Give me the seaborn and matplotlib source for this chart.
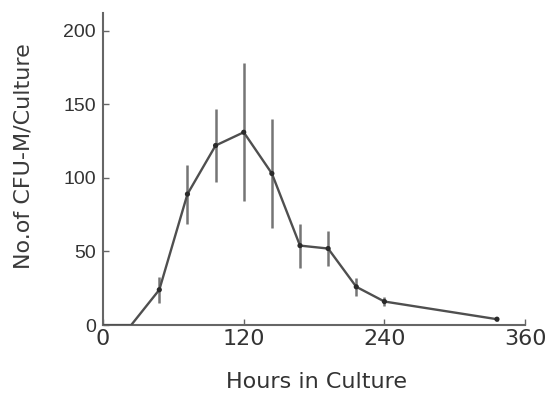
import numpy as np
import pandas as pd
import seaborn as sns
import matplotlib.pyplot as plt

# values
hours = [0, 24, 48, 72, 96, 120, 144, 168, 192, 216, 240, 336]
cfu = [0, 0, 24, 89, 122, 131, 103, 54, 52, 26, 16, 4]
err = [0, 0, 9, 20, 25, 47, 37, 15, 12, 6, 3, 1]

xticks = [0, 120, 240, 360]
yticks = [0, 50, 100, 150, 200]

df = pd.DataFrame({'Hours': hours, 'CFU': cfu, 'err': err})
meas = df[df['Hours'] >= 48]

sns.set_style('ticks')
plt.rcParams['font.family'] = ['Liberation Sans', 'DejaVu Sans']

fig = plt.figure(figsize=(5.51, 3.95), dpi=100)
ax = fig.add_axes([0.187, 0.177, 0.766, 0.79])

line_col = '#4f4f4f'
# error bars (no caps)
ax.vlines(meas['Hours'], meas['CFU'] - meas['err'], meas['CFU'] + meas['err'],
          color='#757575', linewidth=1.8, zorder=2)
# the line through all values
sns.lineplot(data=df, x='Hours', y='CFU', ax=ax, color=line_col, linewidth=1.7,
             zorder=3)
# markers at measured points
sns.scatterplot(data=meas, x='Hours', y='CFU', ax=ax, color='#2a2a2a', s=14,
                edgecolor='none', zorder=4)

ax.set_xlim(0, 360)
ax.set_ylim(0, 212)
ax.set_xticks(xticks)
ax.set_yticks(yticks)
ax.tick_params(direction='in', length=4, width=1, colors='#666666',
               labelcolor='#333333', labelsize=14, pad=5)
for lab in ax.get_xticklabels():
    lab.set_fontfamily('DejaVu Sans')
    lab.set_fontsize(16)
ax.tick_params(axis='x', pad=3)
sns.despine(ax=ax)
for s in ['left', 'bottom']:
    ax.spines[s].set_color('#666666')
    ax.spines[s].set_linewidth(1.5)

ax.set_xlabel('Hours in Culture', fontsize=16, color='#333333',
              family='DejaVu Sans')
ax.set_ylabel('No.of CFU-M/Culture', fontsize=16, color='#3a3a3a',
              family='DejaVu Sans')
ax.xaxis.set_label_coords(0.505, -0.15)
ax.yaxis.set_label_coords(-0.165, 0.54)

fig.savefig('out.png', dpi=100)
